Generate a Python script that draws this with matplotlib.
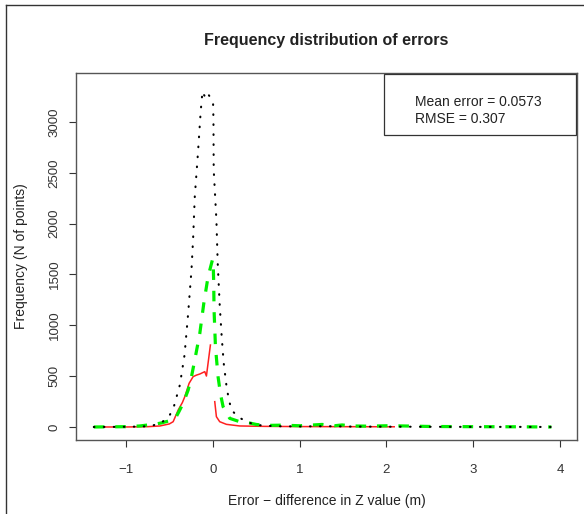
import numpy as np
import matplotlib
matplotlib.use("Agg")
import matplotlib.pyplot as plt
from matplotlib.lines import Line2D
from matplotlib.patches import Rectangle

plt.rcParams['font.family'] = ['Liberation Sans', 'DejaVu Sans']

# Black dotted series
x_black = [-1.37, -1.0, -0.8, -0.7, -0.59, -0.5, -0.448, -0.379, -0.325, -0.283, -0.245,
           -0.226, -0.207, -0.17, -0.14, -0.13, -0.118, -0.10, -0.069, -0.046, -0.02,
           0.004, 0.008, 0.011, 0.042, 0.057, 0.08, 0.103, 0.126, 0.161, 0.187, 0.215,
           0.29, 0.387, 0.5, 0.7, 1.0, 1.3, 1.6, 2.0, 2.5, 3.0, 3.5, 3.99]
y_black = [0, 2, 5, 12, 43, 108, 200, 413, 708, 1120, 1544,
           1855, 2265, 2700, 3090, 3192, 3300, 3264, 3222, 3264, 3230,
           3176, 3018, 2527, 2035, 1612, 1200, 888, 629, 383, 265, 167,
           101, 52, 20, 8, 5, 8, 4, 3, 2, 1, 1, 0]

# Green dashed series
x_green = [-1.37, -1.0, -0.84, -0.65, -0.59, -0.437, -0.39, -0.341, -0.283, -0.245,
           -0.207, -0.149, -0.103, -0.054, -0.004, 0.004, 0.011, 0.015, 0.031, 0.061,
           0.09, 0.119, 0.195, 0.31, 0.42, 0.5, 0.6, 0.8, 1.0, 1.26, 1.4, 1.49, 1.6,
           1.8, 2.0, 2.2, 2.5, 3.0, 3.5, 3.9]
y_green = [0, 3, 10, 30, 40, 75, 150, 233, 364, 495,
           659, 921, 1217, 1478, 1642, 1645, 1413, 1150, 790, 495,
           320, 200, 85, 52, 40, 25, 15, 18, 12, 25, 12, 20, 10,
           8, 12, 10, 5, 3, 2, 0]

# Red solid series (gap where the line breaks)
x_red = [-1.37, -1.0, -0.75, -0.609, -0.5, -0.456, -0.398, -0.35, -0.322, -0.272,
         -0.226, -0.188, -0.149, -0.092, -0.073, -0.027, np.nan, 0.023, 0.042, 0.08,
         0.157, 0.31, 0.6, 1.0, 1.5, 2.09]
y_red = [0, 0, 3, 10, 30, 52, 167, 240, 298, 430,
         495, 510, 521, 544, 501, 806, np.nan, 249, 101, 52,
         26, 10, 6, 4, 3, 2]

x_ticks = [-1, 0, 1, 2, 3, 4]
y_ticks = [0, 500, 1000, 1500, 2000, 2500, 3000]
stats_text = ["Mean error = 0.0573", "RMSE = 0.307"]

fig = plt.figure(figsize=(5.84, 5.14), dpi=100)
ax = fig.add_axes([76/584, 1-440/514, (577-76)/584, (440-73)/514])

ax.plot(x_red, y_red, color='#ff2020', lw=1.1, zorder=2)
ax.plot(x_green, y_green, color='#00f000', lw=2.3, dashes=(3.3, 3.4), zorder=3)
ax.plot(x_black, y_black, color='black', lw=1.5, dashes=(0.3, 4.5),
        dash_capstyle='round', zorder=4)

ax.set_xlim(-1.575, 4.195)
ax.set_ylim(-128, 3481)
ax.set_xticks(x_ticks)
ax.set_xticklabels(["\u22121", "0", "1", "2", "3", "4"])
ax.set_yticks(y_ticks)
ax.set_yticklabels([str(v) for v in y_ticks], rotation=90, va='center')
ax.tick_params(axis='both', labelsize=9.5, colors='#333333', length=5, width=0.8)
ax.tick_params(axis='x', pad=12)
ax.tick_params(axis='y', pad=6)
for s in ax.spines.values():
    s.set_color('#555555')
    s.set_linewidth(1.0)

ax.set_xlabel("Error \u2212 difference in Z value (m)", fontsize=10, color='#222222', labelpad=13)
ax.set_ylabel("Frequency (N of points)", fontsize=10, color='#222222', labelpad=15)
fig.text(326/584, 1-40/514, "Frequency distribution of errors", ha='center', va='center',
         fontsize=11.5, fontweight='bold', color='#222222')

# legend box in top-right corner
bx0, by0 = 384, 74
bx1, by1 = 576, 135
ax_w, ax_h = 577-76, 440-73
rect = Rectangle(((bx0-76)/ax_w, (440-by1)/ax_h), (bx1-bx0)/ax_w, (by1-by0)/ax_h,
                 transform=ax.transAxes, fill=False, edgecolor='#333333', lw=0.9, zorder=5)
ax.add_patch(rect)
for i, t in enumerate(stats_text):
    ax.text((415-76)/ax_w, (440-(102+17*i))/ax_h, t, transform=ax.transAxes,
            ha='left', va='center', fontsize=10, color='#222222')

# figure frame lines (left and top)
fig.add_artist(Line2D([6/584, 6/584], [0, 1-5/514], transform=fig.transFigure, color='#333333', lw=1))
fig.add_artist(Line2D([6/584, 1], [1-5/514, 1-5/514], transform=fig.transFigure, color='#333333', lw=1))

fig.savefig("out.png", dpi=100)
